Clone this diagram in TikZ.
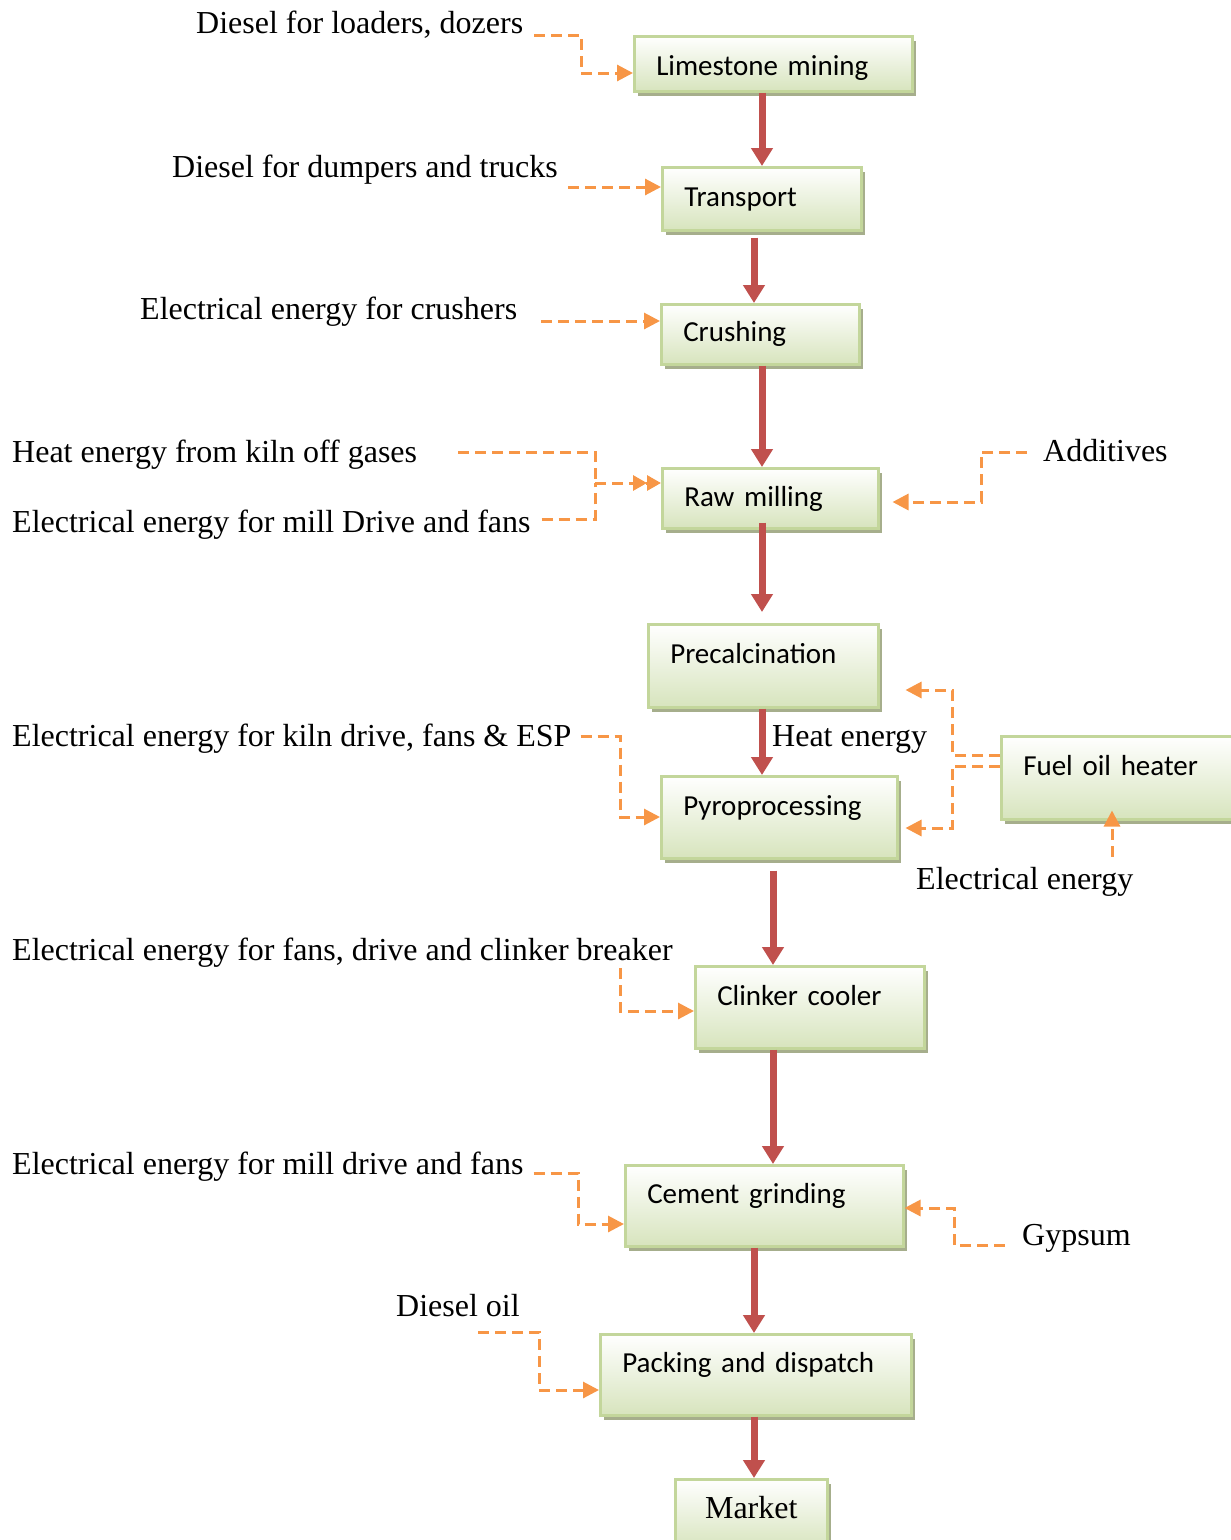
\documentclass[tikz,border=0pt]{standalone}
\usepackage{fontspec}
\setmainfont{Liberation Serif}
\newfontfamily\boxfont{Carlito}
\usetikzlibrary{arrows.meta,calc,shadows}
\definecolor{flowred}{HTML}{C0504D}
\definecolor{energyor}{HTML}{F79646}
\definecolor{boxgreen}{HTML}{D7E4BD}
\definecolor{boxedge}{HTML}{C3D69B}
\definecolor{boxshadow}{HTML}{A6AE8C}
\begin{document}
\begin{tikzpicture}[x=1pt,y=-1pt,
  procbox/.style={draw=boxedge, line width=2.5pt, top color=white, bottom color=boxgreen,
    drop shadow={shadow xshift=4pt, shadow yshift=-5pt, fill=boxshadow, opacity=1},
    anchor=north west, inner xsep=22pt, inner ysep=0pt,
    font=\boxfont\fontsize{29}{34}\selectfont, align=left, text height=20pt, text depth=5pt},
  tallbox/.style={procbox, text depth=24pt},
  lab/.style={anchor=base west, inner sep=0pt, font=\fontsize{32}{38}\selectfont},
  flow/.style={draw=flowred, line width=7pt, -{Triangle[width=21pt,length=18pt]}},
  energy/.style={draw=energyor, line width=3pt, dash pattern=on 11pt off 6pt, -{Triangle[width=16pt,length=16pt]}},
]
\useasboundingbox (0,0) rectangle (1231,1540);

% process boxes
\node[procbox, minimum width=278pt, minimum height=55pt, text width=234pt, text height=28pt] (lime) at (633,35) {Limestone mining};
\node[procbox, minimum width=199pt, minimum height=63pt, text width=155pt] (trans) at (661,166) {Transport};
\node[procbox, minimum width=198pt, minimum height=60pt, text width=154pt] (crush) at (660,303) {Crushing};
\node[procbox, minimum width=216pt, minimum height=60pt, text width=172pt, text height=22pt] (raw) at (661,467) {Raw milling};
\node[tallbox, minimum width=230pt, minimum height=83pt, text width=186pt] (prec) at (647,623) {Precalcination};
\node[tallbox, minimum width=236pt, minimum height=82pt, text width=192pt] (pyro) at (660,775) {Pyroprocessing};
\node[tallbox, minimum width=245pt, minimum height=83pt, text width=201pt] (heater) at (1000,735) {Fuel oil heater};
\node[tallbox, minimum width=229pt, minimum height=82pt, text width=185pt] (clink) at (694,965) {Clinker cooler};
\node[tallbox, minimum width=278pt, minimum height=81pt, text width=234pt] (cem) at (624,1164) {Cement grinding};
\node[tallbox, minimum width=311pt, minimum height=81pt, text width=267pt] (pack) at (599,1333) {Packing and dispatch};
\node[procbox, minimum width=152pt, minimum height=70pt, text width=152pt, inner xsep=0pt, align=center,
  font=\fontsize{32}{38}\selectfont, text height=22pt, text depth=14pt] (market) at (674,1478) {Market};

% labels
\node[lab] (l1) at (196,33) {Diesel for loaders, dozers};
\node[lab] (l2) at (172,177) {Diesel for dumpers and trucks};
\node[lab] (l3) at (140,319) {Electrical energy for crushers};
\node[lab] (l4) at (12,462) {Heat energy from kiln off gases};
\node[lab] (l5) at (12,532) {Electrical energy for mill Drive and fans};
\node[lab] (l6) at (1043,461) {Additives};
\node[lab] (l7) at (12,746) {Electrical energy for kiln drive, fans \& ESP};
\node[lab] (heatlab) at (772,746) {Heat energy};
\node[lab] (l8) at (916,889) {Electrical energy};
\node[lab] (l9) at (12,960) {Electrical energy for fans, drive and clinker breaker};
\node[lab] (l10) at (12,1174) {Electrical energy for mill drive and fans};
\node[lab] (l11) at (1022,1245) {Gypsum};
\node[lab] (l12) at (396,1316) {Diesel oil};

% main flow
\draw[flow] (762,0 |- lime.south) -- (762,0 |- trans.north);
\draw[flow, shorten <=6pt] (754,0 |- trans.south) -- (754,0 |- crush.north);
\draw[flow] (762,0 |- crush.south) -- (762,0 |- raw.north);
\draw[flow, shorten <=-7pt, shorten >=11pt] (762,0 |- raw.south) -- (762,0 |- prec.north);
\draw[flow] (762,0 |- prec.south) -- (762,0 |- pyro.north);
\draw[flow, shorten <=11pt] (773,0 |- pyro.south) -- (773,0 |- clink.north);
\draw[flow] (773,0 |- clink.south) -- (773,0 |- cem.north);
\draw[flow] (754,0 |- cem.south) -- (754,0 |- pack.north);
\draw[flow] (754,0 |- pack.south) -- (754,0 |- market.north);

% energy inputs
\draw[energy] ($(l1.base east)+(11,2)$) -| (581,73) -- (lime.west |- 0,73);
\draw[energy] ($(l2.base east)+(10,10)$) -- (trans.west |- 0,187);
\draw[energy] ($(l3.base east)+(24,2)$) -- (crush.west |- 0,321);
\coordinate (rawjoin) at (595,483);
\draw[energy, -] ($(l4.base east)+(41,-10)$) -| (rawjoin);
\draw[energy, -] ($(l5.base east)+(11,-13)$) -| (rawjoin);
\draw[energy, -{Triangle[width=15pt,length=14pt]Triangle[width=15pt,length=14pt]}] (rawjoin) -- (raw.west |- rawjoin);
\draw[energy, shorten >=13pt] ($(l6.base west)+(-16,-9)$) -| (981,502) -- (raw.east |- 0,502);
\draw[energy] ($(l7.base east)+(9,-10)$) -| (620,817) -- (pyro.west |- 0,817);
\draw[energy, shorten >=26pt] (heater.west |- 0,755) -- (952,755) |- (prec.east |- 0,690);
\draw[energy, shorten >=7pt] (heater.west |- 0,766) -- (952,766) |- (pyro.east |- 0,828);
\draw[energy, shorten >=-10pt] ($(l8.north -| 1112,0)+(0,-10)$) -- (heater.south -| 1112,0);
\draw[energy] ($(l9.base -| 620,0)+(0,8)$) |- (clink.west |- 0,1011);
\draw[energy] ($(l10.base east)+(10,-1)$) -| (578,1224) -- (cem.west |- 0,1224);
\draw[energy] ($(l11.base west)+(-17,0)$) -| (954,1208) -- (cem.east |- 0,1208);
\draw[energy] ($(l12.base -| 478,0)+(0,16)$) -| (539,1390) -- (pack.west |- 0,1390);
\end{tikzpicture}
\end{document}
